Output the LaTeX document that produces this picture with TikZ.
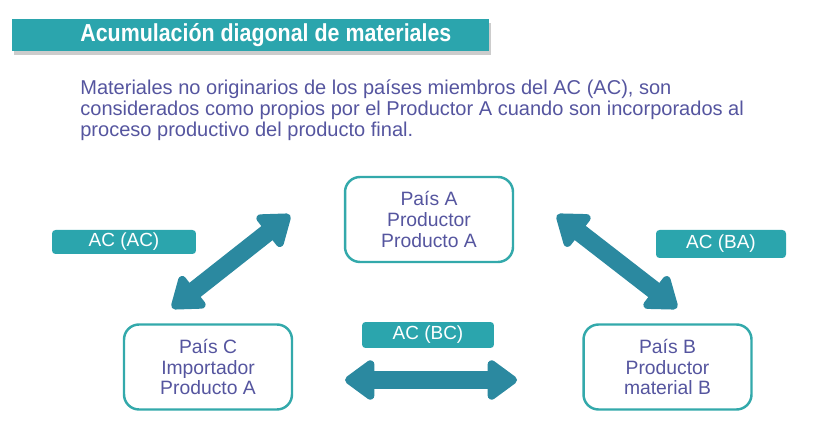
\documentclass[tikz,border=0pt]{standalone}
\usepackage{fontspec}
\setmainfont{Liberation Sans}
\usetikzlibrary{arrows.meta,shadows}
\definecolor{barteal}{HTML}{2BA5AD}
\definecolor{arrowteal}{HTML}{2B89A0}
\definecolor{boxteal}{HTML}{33A9AB}
\definecolor{textblue}{HTML}{55559F}
\begin{document}
\begin{tikzpicture}[
        x=0.02cm, y=-0.02cm,
        titlebar/.style={rectangle, fill=barteal, minimum width=9.54cm, minimum height=0.64cm,
            inner sep=0pt, drop shadow={shadow xshift=1pt, shadow yshift=-2pt, fill=black!40}},
        country/.style={rectangle, rounded corners=0.3cm, draw=boxteal, line width=1.4pt, fill=white,
            minimum width=3.36cm, minimum height=1.7cm, align=center, text=textblue,
            font=\fontsize{11pt}{11.9pt}\selectfont},
        agreement/.style={rectangle, rounded corners=2pt, fill=barteal, text=white, inner sep=0pt,
            minimum height=0.5cm, font=\fontsize{10.8pt}{12pt}\selectfont},
        bigarrow/.style={arrowteal, line width=0.36cm,
            {Triangle[round, length=0pt 1.8, width=0pt 2.5]}-{Triangle[round, length=0pt 1.8, width=0pt 2.5]}},
    ]
        \useasboundingbox (0, 0) rectangle (814, 445);

        % title and text
        \node[titlebar] (bar) at (250.5, 35) {};
        \node[anchor=west, text=white, inner sep=0pt,
            font=\fontsize{14pt}{16pt}\selectfont\bfseries] (title) at (80, 35)
            {\scalebox{0.87}[1]{Acumulación diagonal de materiales}};
        \node[anchor=north west, align=left, text=textblue, inner sep=0pt,
            font=\fontsize{11.4pt}{12pt}\selectfont] (intro) at (80, 79)
            {Materiales no originarios de los países miembros del AC (AC), son\\
             considerados como propios por el Productor A cuando son incorporados al\\
             proceso productivo del producto final.};

        % countries
        \node[country] (A) at (429, 219.5) {País A\\Productor\\Producto A};
        \node[country] (C) at (208, 367) {País C\\Importador\\Producto A};
        \node[country] (B) at (667.5, 367) {País B\\Productor\\material B};

        % agreements
        \node[agreement, minimum width=2.88cm, minimum height=0.48cm] (ac) at (124, 242) {AC (AC)};
        \node[agreement, minimum width=2.6cm, minimum height=0.56cm] (ba) at (721, 244) {AC (BA)};
        \node[agreement, minimum width=2.64cm, minimum height=0.52cm] (bc) at (428, 335) {AC (BC)};

        \coordinate (acA) at (290, 215);
        \coordinate (acC) at (172, 308);
        \coordinate (baA) at (557, 215);
        \coordinate (baB) at (677, 308);
        \coordinate (bcC) at (345, 380);
        \coordinate (bcB) at (517, 380);

        \draw[bigarrow] (acC) -- (acA);
        \draw[bigarrow] (baA) -- (baB);
        \draw[bigarrow] (bcC) -- (bcB);
    \end{tikzpicture}
\end{document}
